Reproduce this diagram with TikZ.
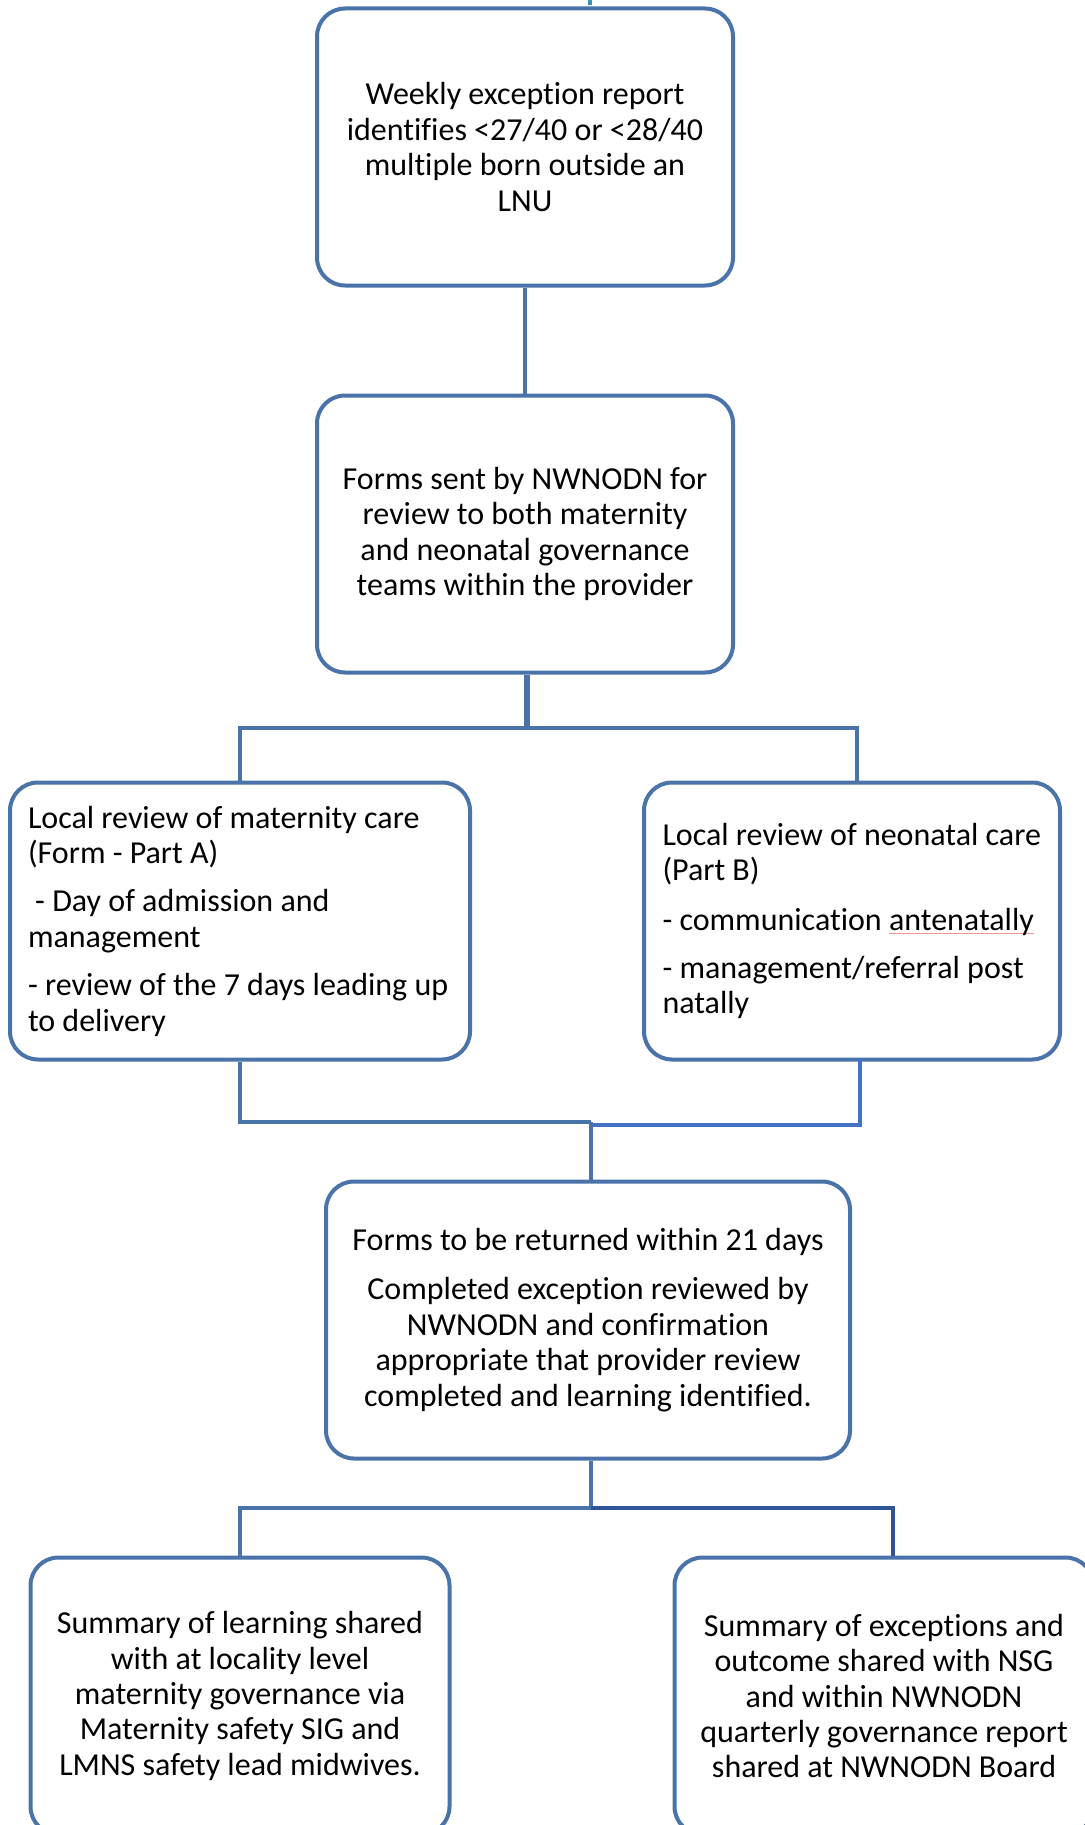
\documentclass[tikz,border=0pt]{standalone}
\usepackage{fontspec}
\setmainfont{Carlito}[Ligatures=NoCommon]
\definecolor{boxblue}{RGB}{74,115,170}
\definecolor{lightblue}{RGB}{68,114,196}
\definecolor{darkblue}{RGB}{47,85,151}
\definecolor{topteal}{RGB}{52,150,185}
\definecolor{spellred}{RGB}{240,150,150}
\newcommand\spellul[1]{\setbox0\hbox{#1}\rlap{\textcolor{spellred}{\rule[-4pt]{\wd0}{1pt}}}#1}
\begin{document}
\begin{tikzpicture}[x=1pt,y=-1pt,
  box/.style={draw=boxblue, line width=4pt, rounded corners=28pt, fill=white,
    minimum height=277pt, inner xsep=18pt, inner ysep=0pt,
    font=\fontsize{32pt}{35.4pt}\selectfont},
  conn/.style={draw=boxblue, line width=4pt}]
\useasboundingbox (0,0) rectangle (1084,1825);
\fill[topteal] (588,0) rectangle (592,5);

\node[box, minimum width=416pt, align=center] (b1) at (525,147)
  {Weekly exception report\\identifies <27/40 or <28/40\\multiple born outside an\\LNU};
\node[box, minimum width=416pt, align=center] (b2) at (525,534)
  {Forms sent by NWNODN for\\review to both maternity\\and neonatal governance\\teams within the provider};
\node[box, minimum width=460pt, text width=424pt, align=flush left] (b3) at (240,921)
  {Local review of maternity care\\(Form - Part A)\\[13pt]
   \ - Day of admission and\\management\\[13pt]
   - review of the 7 days leading up\\to delivery};
\node[box, minimum width=416pt, text width=379pt, inner xsep=18.5pt, align=flush left] (b4) at (852,921)
  {Local review of neonatal care\\(Part B)\\[14pt]
   - communication \spellul{antenatally}\\[13pt]
   - management/referral post\\natally};
\node[box, minimum width=524pt, align=center] (b5) at (588,1320)
  {Forms to be returned within 21 days\\[14pt]
   Completed exception reviewed by\\NWNODN and confirmation\\appropriate that provider review\\completed and learning identified.};
\node[box, minimum width=419pt, align=center] (b6) at (240,1696)
  {Summary of learning shared\\with at locality level\\maternity governance via\\Maternity safety SIG and\\LMNS safety lead midwives.};
\node[box, minimum width=419pt, align=center] (b7) at (884,1696)
  {Summary of exceptions and\\outcome shared with NSG\\and within NWNODN\\quarterly governance report\\shared at NWNODN Board};

\coordinate (j1) at (527,728);
\coordinate (j1r) at (857,728);
\coordinate (b4s) at (860,1060);
\coordinate (j2) at (591,1122);
\coordinate (j2b) at (591,1125);
\coordinate (j3) at (591,1508);
\coordinate (j4) at (893,1508);

\draw[conn] (b1.south) -- (b2.north);
\draw[conn, line width=6pt] (b2.south) ++(2,0) -- (j1);
\draw[conn] (j1) -| (b3.north);
\draw[conn] (j1) -- (j1r) -- (j1r |- b4.north);
\draw[conn] (b3.south) |- (j2);
\draw[conn, draw=lightblue] (b4s) |- (j2b);
\draw[conn] (j2) -- (b5.north -| j2);
\draw[conn] (b5.south -| j3) -- (j3);
\draw[conn] (j3) -| (b6.north);
\draw[conn, draw=darkblue] (j3) -- (j4) -- (j4 |- b7.north);
\end{tikzpicture}
\end{document}
